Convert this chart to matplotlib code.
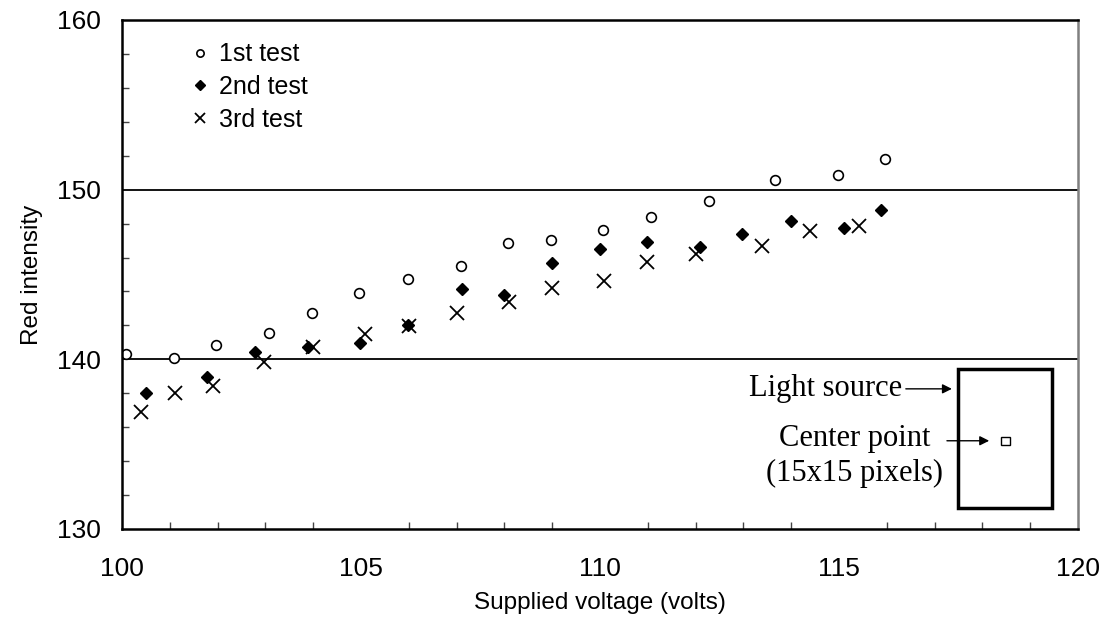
import numpy as np
import matplotlib.pyplot as plt
from matplotlib.ticker import MultipleLocator
from matplotlib.patches import Rectangle

# readings taken off the chart
v1 = [100.08, 101.09, 101.96, 103.08, 103.98, 104.96, 105.98, 107.09,
      108.07, 108.97, 110.06, 111.07, 112.29, 113.67, 114.98, 115.96]
r1 = [140.30, 140.10, 140.87, 141.54, 142.75, 143.91, 144.76, 145.52,
      146.86, 147.04, 147.61, 148.37, 149.31, 150.55, 150.85, 151.79]
v2 = [100.50, 101.77, 102.79, 103.90, 104.98, 105.99, 107.11, 107.99,
      109.00, 110.00, 110.99, 112.10, 112.98, 113.99, 115.10, 115.88]
r2 = [138.04, 138.95, 140.45, 140.71, 140.98, 142.04, 144.15, 143.78,
      145.68, 146.50, 146.90, 146.61, 147.37, 148.14, 147.74, 148.80]
v3 = [100.40, 101.11, 101.90, 102.98, 104.00, 105.08, 106.00, 107.00,
      108.09, 109.00, 110.08, 110.99, 112.00, 113.38, 114.39, 115.41]
r3 = [136.88, 138.04, 138.43, 139.85, 140.71, 141.48, 141.97, 142.72,
      143.36, 144.21, 144.62, 145.74, 146.23, 146.70, 147.57, 147.86]
labels = ["1st test", "2nd test", "3rd test"]

plt.rcParams['font.family'] = ['Liberation Sans', 'DejaVu Sans']
fig = plt.figure(figsize=(11.11, 6.23), dpi=100)
ax = fig.add_axes([0.1098, 0.1509, 0.8605, 0.8170])

ax.plot(v1, r1, 'o', mfc='white', mec='black', ms=7, mew=1.2, label=labels[0])
ax.plot(v2, r2, 'D', color='black', ms=6.3, label=labels[1])
ax.plot(v3, r3, 'x', color='black', ms=9.5, mew=1.3, label=labels[2])

ax.set_xlim(100, 120)
ax.set_ylim(130, 160)
ax.xaxis.set_major_locator(MultipleLocator(5))
ax.xaxis.set_minor_locator(MultipleLocator(1))
ax.yaxis.set_major_locator(MultipleLocator(10))
ax.yaxis.set_minor_locator(MultipleLocator(2))
ax.tick_params(which='both', direction='in', labelsize=19, width=1, color='#444444')
ax.tick_params(which='major', length=0)
ax.tick_params(which='minor', length=5)
ax.tick_params(axis='x', pad=20)
ax.tick_params(axis='y', pad=15)
for y in [140, 150]:
    ax.axhline(y, color='black', lw=1.3, zorder=0)

ax.spines['left'].set_linewidth(1.8)
ax.spines['bottom'].set_linewidth(1.8)
ax.spines['top'].set_linewidth(1.8)
ax.spines['right'].set_color('#808080')
ax.spines['right'].set_linewidth(1.8)

ax.set_xlabel("Supplied voltage (volts)", fontsize=17.5, labelpad=8)
ax.set_ylabel("Red intensity", fontsize=17.5, labelpad=10)

ax.legend(loc='upper left', bbox_to_anchor=(0.05, 1.0), frameon=False,
          fontsize=18, markerscale=0.75, handlelength=0.6, handletextpad=0.45,
          labelspacing=0.35)

# inset sketch of the light source
ax.add_patch(Rectangle((117.49, 131.24), 1.97, 8.19, fill=False, lw=2.5, ec='black'))
ax.add_patch(Rectangle((118.38, 134.95), 0.19, 0.5, fill=False, lw=1, ec='black'))
serif = ['Liberation Serif', 'DejaVu Serif']
ax.text(116.32, 138.26, "Light source", family=serif, fontsize=22,
        ha='right', va='center')
ax.annotate("", xy=(117.42, 138.26), xytext=(116.34, 138.26),
            arrowprops=dict(arrowstyle='-|>', color='black', lw=1, mutation_scale=14))
ax.text(115.33, 135.35, "Center point", family=serif, fontsize=22,
        ha='center', va='center')
ax.text(115.33, 133.3, "(15x15 pixels)", family=serif, fontsize=22,
        ha='center', va='center')
ax.annotate("", xy=(118.2, 135.2), xytext=(117.2, 135.2),
            arrowprops=dict(arrowstyle='-|>', color='black', lw=1, mutation_scale=14))

plt.savefig('out.png', dpi=100)
